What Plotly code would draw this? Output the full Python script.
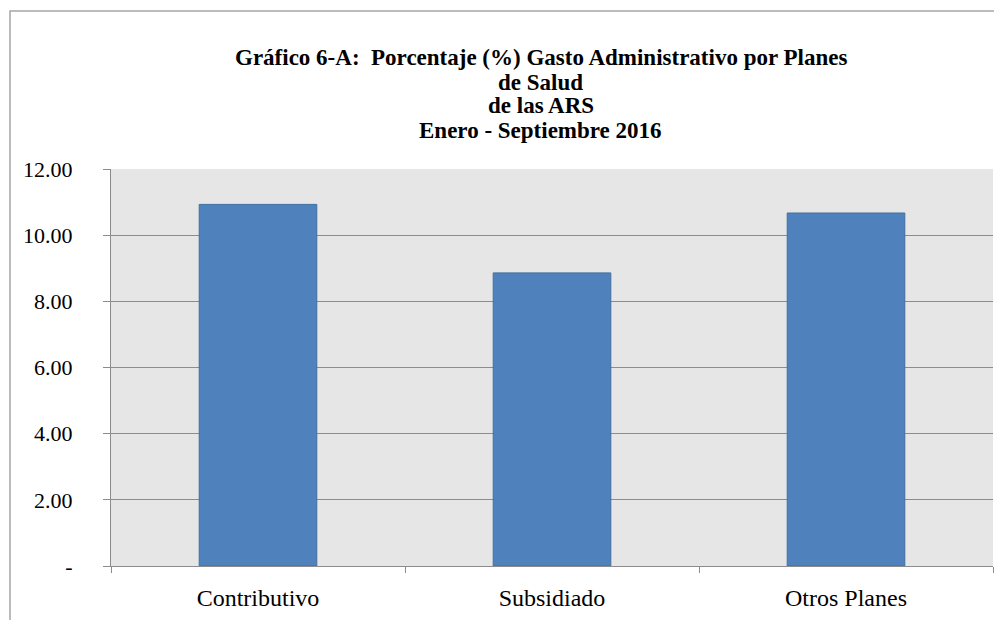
import plotly.graph_objects as go

categories = ['Contributivo', 'Subsidiado', 'Otros Planes']
gasto_pct = [10.93, 8.86, 10.67]
y_ticks = [0, 2, 4, 6, 8, 10, 12]
y_tick_labels = ['-', '2.00', '4.00', '6.00', '8.00', '10.00', '12.00']

title_lines = ['Gráfico 6-A:  Porcentaje (%) Gasto Administrativo por Planes',
               'de Salud', 'de las ARS', 'Enero - Septiembre 2016']
title_y = [1.2796, 1.2191, 1.1587, 1.0982]

serif = 'Liberation Serif, Times New Roman, serif'

fig = go.Figure(
    go.Bar(
        x=categories,
        y=gasto_pct,
        marker=dict(color='#4f81bd', line=dict(color='#40709f', width=1)),
        width=0.4,
        showlegend=False,
    )
)

# the page body has an 8px margin, so the figure is shrunk to fit the window
fig.update_layout(
    width=994,
    height=612,
    margin=dict(l=103, r=9, t=161, b=54),
    paper_bgcolor='white',
    plot_bgcolor='#e6e6e6',
    font=dict(family=serif, color='black', size=17),
    bargap=0.6,
    shapes=[
        dict(type='rect', xref='paper', yref='paper',
             x0=-0.1145, x1=1.02, y0=-0.2, y1=1.398,
             line=dict(color='#a6a6a6', width=1.5), fillcolor='rgba(0,0,0,0)',
             layer='below'),
    ],
)

for line, ypos in zip(title_lines, title_y):
    fig.add_annotation(
        text=line, x=0.4875, y=ypos, xref='paper', yref='paper',
        xanchor='center', yanchor='middle', showarrow=False,
        font=dict(family=serif, size=23, color='black', weight='bold'),
    )

fig.update_xaxes(
    showgrid=False,
    showline=True,
    linecolor='#8c8c8c',
    linewidth=1,
    ticks='outside',
    tickson='boundaries',
    ticklen=6,
    tickcolor='#8c8c8c',
    ticklabelstandoff=10,
    tickfont=dict(size=24),
)

fig.update_yaxes(
    range=[0, 12],
    tickvals=y_ticks,
    ticktext=y_tick_labels,
    showgrid=True,
    gridcolor='#8c8c8c',
    gridwidth=1,
    showline=True,
    linecolor='#8c8c8c',
    linewidth=1,
    ticks='outside',
    ticklen=7,
    tickcolor='#8c8c8c',
    ticklabelstandoff=26,
    tickfont=dict(size=22),
    zeroline=False,
)

fig.write_html('out.html')
